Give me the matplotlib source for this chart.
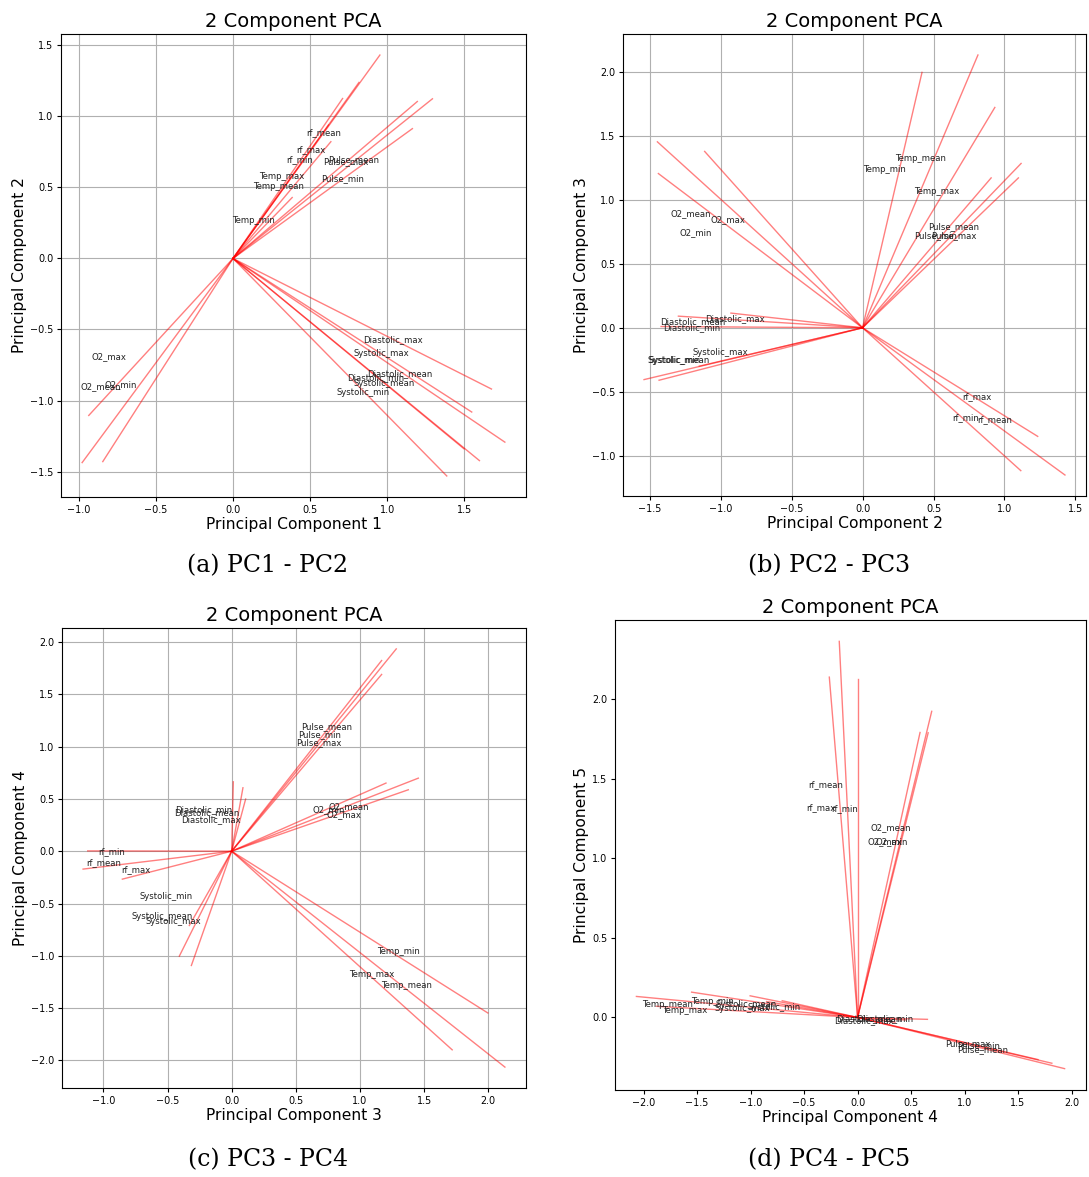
import matplotlib
matplotlib.use("Agg")
import matplotlib.pyplot as plt

features = ['rf_mean', 'rf_max', 'rf_min',
            'Pulse_mean', 'Pulse_max', 'Pulse_min',
            'Temp_mean', 'Temp_max', 'Temp_min',
            'O2_mean', 'O2_max', 'O2_min',
            'Systolic_mean', 'Systolic_max', 'Systolic_min',
            'Diastolic_mean', 'Diastolic_max', 'Diastolic_min']

# ---- panel (a): PC1 vs PC2 ----
a_end_x = [0.953, 0.817, 0.711, 1.294, 1.196, 1.164, 0.635, 0.620, 0.384,
           -0.979, -0.936, -0.845, 1.599, 1.549, 1.387, 1.764, 1.677, 1.499]
a_end_y = [1.432, 1.239, 1.126, 1.124, 1.105, 0.914, 0.822, 0.940, 0.429,
           -1.437, -1.105, -1.430, -1.423, -1.081, -1.531, -1.293, -0.919, -1.340]
a_lab_x = [0.587, 0.505, 0.433, 0.784, 0.730, 0.713, 0.295, 0.314, 0.134,
           -0.858, -0.808, -0.732, 0.979, 0.960, 0.845, 1.083, 1.036, 0.927]
a_lab_y = [0.883, 0.766, 0.693, 0.693, 0.681, 0.561, 0.504, 0.580, 0.269,
           -0.900, -0.690, -0.888, -0.881, -0.669, -0.945, -0.808, -0.572, -0.836]

# ---- panel (b): PC2 vs PC3 ----
b_end_x = [1.426, 1.234, 1.115, 1.117, 1.098, 0.906, 0.813, 0.932, 0.419,
           -1.445, -1.112, -1.438, -1.539, -1.150, -1.433, -1.297, -0.927, -1.419]
b_end_y = [-1.151, -0.849, -1.117, 1.285, 1.172, 1.172, 2.133, 1.723, 1.997,
           1.454, 1.379, 1.206, -0.405, -0.300, -0.410, 0.091, 0.115, 0.010]
b_lab_x = [0.930, 0.803, 0.726, 0.639, 0.646, 0.513, 0.412, 0.522, 0.152,
           -1.213, -0.946, -1.178, -1.290, -1.005, -1.330, -1.199, -0.902, -1.206]
b_lab_y = [-0.721, -0.535, -0.702, 0.789, 0.718, 0.718, 1.321, 1.063, 1.240,
           0.893, 0.849, 0.742, -0.253, -0.191, -0.253, 0.047, 0.068, 0.003]

# ---- panel (c): PC3 vs PC4 ----
c_end_x = [-1.158, -0.852, -1.122, 1.283, 1.169, 1.169, 2.130, 1.719, 1.997,
           1.455, 1.377, 1.203, -0.408, -0.314, -0.330, 0.088, 0.109, 0.013]
c_end_y = [-0.171, -0.267, 0.003, 1.933, 1.689, 1.822, -2.063, -1.898, -1.546,
           0.698, 0.587, 0.651, -1.003, -1.092, -0.710, 0.606, 0.498, 0.663]
c_lab_x = [-0.995, -0.745, -0.935, 0.740, 0.681, 0.688, 1.366, 1.088, 1.304,
           0.914, 0.878, 0.756, -0.543, -0.457, -0.509, -0.197, -0.161, -0.221]
c_lab_y = [-0.108, -0.175, 0.000, 1.190, 1.041, 1.117, -1.279, -1.175, -0.956,
           0.425, 0.352, 0.394, -0.625, -0.670, -0.435, 0.368, 0.298, 0.400]

# ---- panel (d): PC4 vs PC5 ----
d_end_x = [-0.171, -0.264, 0.000, 1.935, 1.687, 1.816, -2.067, -1.880, -1.551,
           0.693, 0.584, 0.660, -1.004, -0.850, -0.704, 0.450, 0.350, 0.653]
d_end_y = [2.365, 2.140, 2.128, -0.322, -0.265, -0.288, 0.132, 0.070, 0.159,
           1.925, 1.792, 1.790, 0.136, 0.100, 0.105, -0.016, -0.030, -0.012]
d_lab_x = [-0.298, -0.342, -0.124, 1.172, 1.029, 1.134, -1.775, -1.616, -1.358,
           0.314, 0.258, 0.317, -1.041, -1.078, -0.777, 0.109, 0.062, 0.249]
d_lab_y = [1.463, 1.321, 1.314, -0.205, -0.164, -0.178, 0.082, 0.042, 0.101,
           1.191, 1.103, 1.103, 0.080, 0.059, 0.061, -0.010, -0.019, -0.008]

panel_titles = ['2 Component PCA'] * 4
x_labels = ['Principal Component 1', 'Principal Component 2',
            'Principal Component 3', 'Principal Component 4']
y_labels = ['Principal Component 2', 'Principal Component 3',
            'Principal Component 4', 'Principal Component 5']
captions = ['(a) PC1 - PC2', '(b) PC2 - PC3', '(c) PC3 - PC4', '(d) PC4 - PC5']

W, H = 1089, 1177
fig = plt.figure(figsize=(W / 100, H / 100), dpi=100)

# axes boxes in pixel coordinates: left, top, right, bottom
boxes = [(61, 34, 526, 497), (623, 34, 1086, 496),
         (62, 628, 526, 1088), (615, 620, 1086, 1090)]
grids = [True, True, True, False]
caption_pos = [(268, 566), (829, 566), (268, 1160), (829, 1160)]

data = [(a_end_x, a_end_y, a_lab_x, a_lab_y),
        (b_end_x, b_end_y, b_lab_x, b_lab_y),
        (c_end_x, c_end_y, c_lab_x, c_lab_y),
        (d_end_x, d_end_y, d_lab_x, d_lab_y)]

for i, (box, (ex, ey, lx, ly)) in enumerate(zip(boxes, data)):
    l, t, r, b = box
    ax = fig.add_axes([l / W, 1 - b / H, (r - l) / W, (b - t) / H])
    for k in range(len(features)):
        ax.plot([0, ex[k]], [0, ey[k]], color='red', alpha=0.5, lw=1.0)
    for k, name in enumerate(features):
        ax.text(lx[k], ly[k], name, fontsize=6.1, ha='center', va='center',
                color='#222222')
    if grids[i]:
        ax.grid(True, color='#b0b0b0', lw=0.8)
    ax.set_axisbelow(True)
    ax.set_title(panel_titles[i], fontsize=14, pad=5)
    ax.set_xlabel(x_labels[i], fontsize=11.2, labelpad=1.5)
    ax.set_ylabel(y_labels[i], fontsize=11.2, labelpad=2)
    ax.tick_params(labelsize=6.9, length=3, pad=2.5)
    for s in ax.spines.values():
        s.set_linewidth(0.8)
    cx, cy = caption_pos[i]
    fig.text(cx / W, 1 - cy / H, captions[i], fontsize=17,
             family='DejaVu Serif', ha='center', va='center')

fig.savefig('out.png', dpi=100)
